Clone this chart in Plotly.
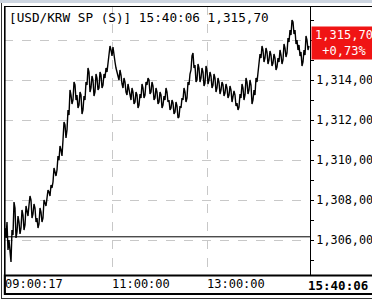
import plotly.graph_objects as go

# ---------------- data ----------------
prices = [
    # 09:00 - opening
    1306.6, 1306.1, 1306.9, 1305.5, 1306.0, 1305.2, 1304.9, 1306.5, 1306.25, 1307.9,
    1307.6, 1306.1, 1306.4, 1307.2, 1306.9, 1306.3, 1306.6, 1307.5, 1307.25, 1306.5,
    1306.75, 1307.7, 1307.4, 1307.2, 1307.75, 1308.2, 1308.0, 1307.1, 1307.3, 1307.8,
    1307.6, 1306.9, 1307.1, 1306.6, 1306.8, 1307.6, 1307.4, 1306.9, 1307.1, 1308.0,
    1307.85, 1307.7, 1308.1, 1308.5, 1308.4, 1308.2, 1308.75, 1308.6, 1308.9, 1309.6,
    1309.4, 1309.2,
    # rally
    1309.5, 1310.2, 1310.0, 1310.7, 1310.5, 1310.2, 1311.0, 1311.9, 1311.75, 1311.1,
    1311.5, 1312.5, 1312.25, 1313.5, 1313.25, 1312.8, 1313.0, 1313.9, 1313.75, 1313.0,
    1313.25, 1312.6, 1312.75, 1313.4, 1313.25, 1312.3, 1312.5, 1313.2, 1313.0, 1313.9,
    1313.75, 1314.6, 1314.4, 1313.4, 1313.6, 1314.2, 1314.0, 1313.2, 1313.4, 1314.3,
    1314.1, 1313.5, 1313.6, 1314.4, 1314.25, 1313.6, 1313.75, 1314.3, 1314.1, 1314.6,
    1314.4, 1314.8,
    # late morning
    1315.0, 1315.7, 1315.5, 1315.2, 1315.65, 1315.1, 1314.9, 1314.6, 1314.4, 1314.3,
    1314.0, 1314.5, 1314.25, 1313.8, 1313.6, 1314.1, 1313.9, 1313.4, 1313.25, 1313.8,
    1313.5, 1313.1, 1313.0, 1313.6, 1313.4, 1312.8, 1312.9, 1313.4, 1313.25, 1312.6,
    1312.75, 1313.3, 1313.1, 1313.8, 1313.6, 1313.1, 1313.25, 1313.9, 1313.75, 1314.1,
    1314.0, 1313.3, 1313.4, 1313.9, 1313.7, 1313.0, 1313.1, 1313.6, 1313.4, 1312.8,
    1312.9, 1313.4, 1313.25, 1312.6, 1312.75, 1313.2, 1313.0, 1313.6, 1313.4, 1312.9,
    1313.0, 1312.5, 1312.6, 1313.0, 1312.85, 1312.3, 1312.4, 1312.9, 1312.7, 1312.1,
    1312.15, 1312.7,
    # midday
    1312.6, 1313.1, 1313.0, 1313.6, 1313.4, 1312.9, 1313.1, 1313.9, 1313.75, 1314.3,
    1314.5, 1315.2, 1315.35, 1314.6, 1314.75, 1313.9, 1314.0, 1314.8, 1314.6, 1313.9,
    1314.1, 1314.6, 1314.4, 1313.7, 1313.85, 1314.7, 1314.5, 1313.8, 1314.0, 1314.4,
    1314.2, 1313.6, 1313.75, 1314.3, 1314.1, 1313.4, 1313.6, 1314.1, 1313.9, 1313.3,
    1313.5, 1313.9, 1313.75, 1313.2, 1313.35, 1313.8, 1313.6, 1313.1, 1313.25, 1313.7,
    1313.5, 1312.9, 1313.1, 1313.45, 1313.25, 1312.7, 1312.85, 1312.5, 1312.65, 1313.3,
    1313.1, 1313.8, 1313.6, 1313.0, 1313.25, 1314.1, 1313.9, 1313.3, 1313.5, 1314.0,
    1313.75, 1312.8, 1313.0, 1313.5, 1313.25, 1314.1, 1313.9, 1314.5,
    # afternoon
    1314.75, 1315.3, 1315.1, 1315.7, 1315.5, 1314.9, 1315.1, 1315.6, 1315.4, 1314.8,
    1315.0, 1315.45, 1315.25, 1314.7, 1314.85, 1315.3, 1315.1, 1314.5, 1314.65, 1315.1,
    1314.9, 1315.5, 1315.25, 1314.8, 1315.0, 1315.8, 1315.6, 1315.15, 1315.35, 1316.1,
    1315.9, 1316.5, 1316.25, 1317.0, 1316.9, 1316.3, 1316.5, 1315.8, 1316.0, 1315.5,
    1315.75, 1315.2, 1315.4, 1314.7, 1314.9, 1315.5, 1315.25, 1316.2, 1316.0, 1315.5,
    1315.70,
]
prev_close = 1306.16
symbol = "[USD/KRW SP (S)]"
last_time = "15:40:06"
time_tick_pos = [0, 107, 202]
time_tick_text = ["09:00:17", "11:00:00", "13:00:00"]
price_ticks = [1306, 1308, 1310, 1312, 1314, 1316]

# ---------------- layout helpers ----------------
W, H = 372, 301
L, R, T, B = 4, 310, 6, 275


def X(px):
    return (px - L) / (R - L)


def Y(py):
    return (B - py) / (B - T)


def fmt(v):
    s = f"{v:,.2f}"
    return s.replace(".", "#").replace("#", ",")


last = prices[-1]
pct = (last / prev_close - 1) * 100
idx = list(range(len(prices)))
# the top label is hidden under the last-price box
price_tick_text = [fmt(v) if v < last - 0.5 else "" for v in price_ticks]

mono = "DejaVu Sans Mono"

fig = go.Figure()
fig.add_trace(go.Scatter(
    x=idx, y=prices, mode="lines",
    line=dict(color="black", width=1.4),
    hoverinfo="skip", showlegend=False,
))

shapes = [
    dict(type="rect", xref="paper", yref="paper", x0=X(0), x1=X(W), y0=Y(3), y1=Y(0),
         fillcolor="#cdd5e0", line=dict(width=0), layer="above"),
    dict(type="line", xref="paper", yref="paper", x0=X(1.5), x1=X(1.5), y0=Y(3), y1=Y(299),
         line=dict(color="#333333", width=1), layer="above"),
    dict(type="line", xref="paper", yref="paper", x0=X(1.5), x1=X(W), y0=Y(298.5), y1=Y(298.5),
         line=dict(color="#333333", width=1), layer="above"),
    dict(type="line", xref="paper", yref="paper", x0=X(4), x1=X(W), y0=Y(6.5), y1=Y(6.5),
         line=dict(color="black", width=1), layer="above"),
    dict(type="line", xref="paper", yref="paper", x0=X(4.8), x1=X(4.8), y0=Y(6), y1=Y(294),
         line=dict(color="black", width=1.6), layer="above"),
    dict(type="line", xref="paper", yref="paper", x0=X(310.5), x1=X(310.5), y0=Y(6), y1=Y(275),
         line=dict(color="black", width=1), layer="above"),
    dict(type="rect", xref="paper", yref="paper", x0=X(4.8), x1=X(W + 2), y0=Y(294), y1=Y(275.5),
         line=dict(color="black", width=2), fillcolor="rgba(0,0,0,0)", layer="above"),
    dict(type="line", xref="paper", yref="y", x0=0, x1=1, y0=prev_close, y1=prev_close,
         line=dict(color="black", width=1), layer="above"),
]

annotations = [
    dict(xref="paper", yref="paper", x=X(7), y=Y(8), xanchor="left", yanchor="top",
         text=f"{symbol} {last_time} {fmt(last)}", showarrow=False,
         font=dict(family=mono, size=12.7, color="black")),
    dict(xref="paper", yref="y", x=X(311), y=last, xanchor="left", yanchor="middle",
         text=f"{fmt(last)}<br>{'+' if pct >= 0 else ''}{pct:.2f}%".replace(".", ","),
         showarrow=False, bgcolor="#f01414", width=62, height=30, borderpad=1,
         align="center", yshift=3,
         font=dict(family=mono, size=12, color="white")),
    dict(xref="paper", yref="paper", x=X(370), y=Y(276), xanchor="right", yanchor="top",
         text=f"<b>{last_time}</b>", showarrow=False,
         font=dict(family=mono, size=12.5, color="black")),
]

fig.update_layout(
    width=W, height=H,
    margin=dict(l=L, r=W - R, t=T, b=H - B, pad=0, autoexpand=False),
    paper_bgcolor="white", plot_bgcolor="white",
    separators=",,",
    shapes=shapes, annotations=annotations,
    xaxis=dict(
        range=[-1, len(prices)],
        tickmode="array", tickvals=time_tick_pos, ticktext=time_tick_text,
        ticks="", ticklabelposition="outside right",
        showgrid=True, gridcolor="#c8c8c8", griddash="dash", gridwidth=1,
        zeroline=False, showline=False, automargin=False,
        tickfont=dict(family=mono, size=12, color="black"),
        fixedrange=True,
    ),
    yaxis=dict(
        side="right", range=[1304.25, 1317.7],
        tickmode="array", tickvals=price_ticks, ticktext=price_tick_text,
        ticks="outside", ticklen=3, tickcolor="black",
        ticklabelstandoff=0,
        minor=dict(tickmode="linear", tick0=0, dtick=1, ticks="outside", ticklen=3,
                   tickcolor="black", showgrid=False),
        showgrid=True, gridcolor="#c8c8c8", griddash="dash", gridwidth=1,
        zeroline=False, showline=False, automargin=False,
        tickfont=dict(family=mono, size=11.8, color="black"),
        fixedrange=True,
    ),
)

fig.write_html("out.html", config=dict(displayModeBar=False))
